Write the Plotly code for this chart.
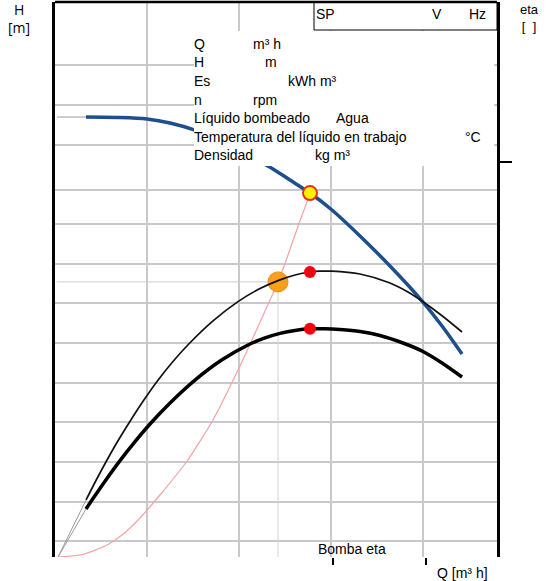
import plotly.graph_objects as go

# ---- pump data -------------------------------------------------------------
# head curve H(Q)
q_head = [3.37, 7.06, 9.99, 12.49, 15.10, 19.00, 21.72, 23.67, 25.52, 27.69,
          30.08, 33.12, 36.38, 39.96, 42.03, 44.20]
h_head = [55.49, 55.43, 55.24, 54.74, 53.86, 51.84, 50.20, 48.94, 47.55, 45.91,
          43.77, 40.49, 36.70, 32.16, 29.13, 25.60]
q_head_ext = [0.22, 3.37]
h_head_ext = [55.49, 55.49]

# hydraulic efficiency (thin curve)
q_eta_p = [3.37, 4.45, 5.65, 6.73, 7.93, 9.45, 11.08, 12.81, 14.66, 17.16, 19.87,
           22.04, 24.22, 26.06, 27.69, 28.78, 30.08, 33.12, 36.38, 38.33, 39.96,
           42.03, 44.20]
eta_p = [7.19, 9.65, 12.23, 14.44, 16.71, 19.45, 22.14, 24.66, 27.02, 29.78, 32.21,
         33.73, 34.86, 35.57, 35.95, 36.05, 36.05, 35.69, 34.56, 33.42, 32.19,
         30.43, 28.38]
q_eta_p_ext = [0.33, 3.37]
eta_p_ext = [0.0, 7.19]

# overall efficiency (thick curve)
q_eta_t = [3.37, 4.13, 5.43, 7.06, 8.69, 10.32, 12.49, 15.20, 18.14, 20.96, 22.81,
           24.43, 26.06, 27.80, 29.32, 30.95, 33.12, 35.29, 37.79, 39.96, 42.03,
           44.20]
eta_t = [6.05, 7.37, 9.56, 12.16, 14.55, 16.77, 19.42, 22.31, 24.87, 26.74, 27.63,
         28.20, 28.58, 28.78, 28.79, 28.69, 28.44, 27.94, 26.99, 25.92, 24.47,
         22.70]
q_eta_t_ext = [0.33, 3.37]
eta_t_ext = [0.0, 6.05]

# system curve
q_sys = [0.33, 3.04, 5.65, 7.28, 9.23, 11.40, 14.34, 17.16, 19.77, 21.39, 22.81,
         24.22, 25.19, 26.39, 27.69]
h_sys = [0.0, 0.32, 1.51, 2.77, 4.92, 7.82, 12.11, 17.28, 23.33, 27.37, 31.03,
         34.68, 37.71, 41.72, 45.79]

# duty point and marked values
q_duty, h_duty = 27.69, 45.9
eta_p_duty, eta_t_duty = 35.95, 28.78
q_op, h_op = 24.22, 34.7

# axis grids / ticks
q_grid = [10, 20, 30, 40]
q_ticks = [30.2, 40.3]
h_grid = [2, 7, 12, 17, 22, 27, 32, 37, 42, 46.3, 52, 57, 62]
eta_ticks = [49.8]

# ---- layout geometry (pixels) ---------------------------------------------
W, H = 558, 581
L, R, T, B = 55, 497, 2, 557


def fx(p):
    return (p - L) / (R - L)


def fy(p):
    return (B - p) / (B - T)


FONT = "Liberation Sans, Arial, sans-serif"
GRID = "#c7c9cd"
EXT = "#9a9a9a"

fig = go.Figure()

# guide lines to the operating point
fig.add_trace(go.Scatter(x=[0.2, q_op], y=[h_op, h_op], mode="lines",
                         line=dict(color="#cdcdcd", width=1), hoverinfo="skip"))
fig.add_trace(go.Scatter(x=[q_op, q_op], y=[0, h_op], mode="lines",
                         line=dict(color="#d4d4d4", width=1), hoverinfo="skip"))

# system curve
fig.add_trace(go.Scatter(x=q_sys, y=h_sys, mode="lines",
                         line=dict(color="#f3a3a6", width=1.2, shape="spline",
                                   smoothing=0.6),
                         hoverinfo="skip"))

# efficiency curves (right axis)
fig.add_trace(go.Scatter(x=q_eta_p_ext, y=eta_p_ext, yaxis="y2", mode="lines",
                         line=dict(color=EXT, width=1)))
fig.add_trace(go.Scatter(x=q_eta_t_ext, y=eta_t_ext, yaxis="y2", mode="lines",
                         line=dict(color=EXT, width=1)))
fig.add_trace(go.Scatter(x=q_eta_p, y=eta_p, yaxis="y2", mode="lines",
                         line=dict(color="#111111", width=1.7, shape="spline",
                                   smoothing=0.8)))
fig.add_trace(go.Scatter(x=q_eta_t, y=eta_t, yaxis="y2", mode="lines",
                         line=dict(color="#000000", width=3.5, shape="spline",
                                   smoothing=0.8)))

# head curve
fig.add_trace(go.Scatter(x=q_head_ext, y=h_head_ext, mode="lines",
                         line=dict(color=EXT, width=1)))
fig.add_trace(go.Scatter(x=q_head, y=h_head, mode="lines",
                         line=dict(color="#1c4f8b", width=3.5, shape="spline",
                                   smoothing=0.8)))

# markers
fig.add_trace(go.Scatter(x=[q_op], y=[h_op], mode="markers",
                         marker=dict(size=20, color="#f9a11b",
                                     line=dict(color="#ec8d17", width=1))))
fig.add_trace(go.Scatter(x=[q_duty, q_duty], y=[eta_p_duty, eta_t_duty], yaxis="y2",
                         mode="markers",
                         marker=dict(size=12, color="#f40010", line=dict(width=0))))
fig.add_trace(go.Scatter(x=[q_duty], y=[h_duty], mode="markers",
                         marker=dict(size=14, color="#fff200",
                                     line=dict(color="#e8301c", width=2))))

# carrier for the secondary Q axis ticks
fig.add_trace(go.Scatter(x=[None], y=[None], xaxis="x2", mode="lines", showlegend=False))

shapes = [
    # white panel behind the info block (hides grid, keeps curves)
    dict(type="rect", xref="paper", yref="paper", layer="between",
         x0=fx(194), x1=1, y0=fy(189), y1=fy(30),
         fillcolor="white", line=dict(width=0)),
    # info block text area, drawn over the curves
    dict(type="rect", xref="paper", yref="paper", layer="above",
         x0=fx(194), x1=fx(494), y0=fy(166), y1=fy(31),
         fillcolor="white", line=dict(width=0)),
    # SP header box
    dict(type="rect", xref="paper", yref="paper", layer="above",
         x0=fx(314), x1=1, y0=fy(30), y1=1,
         fillcolor="white", line=dict(color="black", width=1)),
    # top frame line
    dict(type="line", xref="paper", yref="paper", layer="above",
         x0=0, x1=1, y0=1, y1=1, line=dict(color="black", width=2.5)),
]

ann = []


def text(x, y, s, size=14, anchor="left", family=FONT):
    ann.append(dict(x=fx(x), y=fy(y), xref="paper", yref="paper", text=s,
                    showarrow=False, xanchor=anchor, yanchor="middle",
                    borderpad=0, borderwidth=0, align="center",
                    font=dict(family=family, size=size, color="black")))


# header box
text(316, 14, "SP")
text(432, 14, "V")
text(469, 14, "Hz")

# info rows
rows = [
    (44, "Q", 253, "m³ h"),
    (62, "H", 265, "m"),
    (81, "Es", 288, "kWh m³"),
    (100, "n", 253, "rpm"),
    (118, "Líquido bombeado", 336, "Agua"),
    (137, "Temperatura del líquido en trabajo", 465, "°C"),
    (155, "Densidad", 315, "kg m³"),
]
for yy, lab, ux, unit in rows:
    text(194, yy, lab)
    text(ux, yy, unit)

# axis titles
text(19, 18.5, "H<br>[m]", size=14, anchor="center", family="Open Sans, DejaVu Sans")
text(529, 18, "eta<br>[  ]", size=13, anchor="center")
text(318, 549, "Bomba eta", size=14)
text(437, 573, "Q [m³ h]", size=14)

fig.update_layout(
    width=W, height=H,
    margin=dict(l=L, r=W - R, t=T, b=H - B),
    paper_bgcolor="white", plot_bgcolor="white",
    showlegend=False,
    shapes=shapes, annotations=ann,
    xaxis=dict(range=[0, 48], tickvals=q_grid, showgrid=True, gridcolor=GRID,
               gridwidth=1.5, showticklabels=False, ticks="", zeroline=False,
               showline=False),
    xaxis2=dict(range=[0, 48], overlaying="x", anchor="y", side="bottom",
                tickvals=q_ticks, ticks="outside", ticklen=7, tickwidth=2,
                tickcolor="black", showticklabels=False, showgrid=False,
                zeroline=False, showline=False),
    yaxis=dict(range=[0, 70], tickvals=h_grid, showgrid=True, gridcolor=GRID,
               gridwidth=1.5, showticklabels=False, ticks="", zeroline=False,
               showline=True, linecolor="black", linewidth=2.5),
    yaxis2=dict(range=[0, 70], overlaying="y", side="right", tickvals=eta_ticks,
                ticks="outside", ticklen=12, tickwidth=2, tickcolor="black",
                showticklabels=False, showgrid=False, zeroline=False,
                showline=True, linecolor="black", linewidth=3),
)

fig.write_html("out.html")
